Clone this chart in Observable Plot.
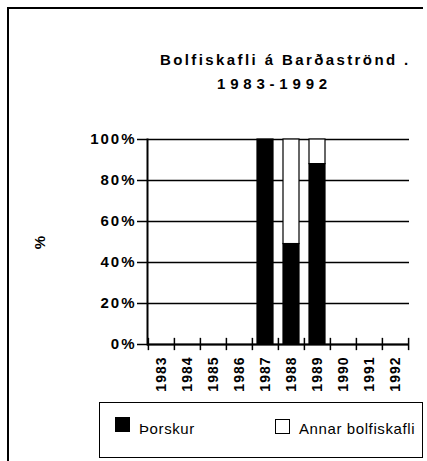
<!DOCTYPE html>
<html>
<head>
<meta charset="utf-8">
<script src="https://cdn.jsdelivr.net/npm/d3@7"></script>
<script src="https://cdn.jsdelivr.net/npm/@observablehq/plot@0.6"></script>
<style>
  html, body { margin: 0; padding: 0; background: #fff; }
  #wrap { position: relative; width: 427px; height: 461px; overflow: hidden; font-family: "Liberation Sans", Arial, sans-serif; color: #000; }
  #chart { position: absolute; left: 0; top: 0; }
  #chart g[aria-label="y-axis tick label"] text { letter-spacing: 2px; }
  #chart g[aria-label="x-axis tick label"] text { letter-spacing: 1px; }
  .frame { position: absolute; left: 7px; top: 7px; width: 414px; height: 470px; border-left: 2px solid #000; border-top: 2px solid #000; }
  .t1, .t2 { position: absolute; font-weight: bold; font-size: 15px; line-height: 15px; white-space: nowrap; }
  .t1 { left: 160px; top: 52px; letter-spacing: 2.4px; }
  .t2 { left: 217px; top: 76px; letter-spacing: 4.8px; }
  .ylab { position: absolute; left: 33px; top: 234px; font-size: 15px; font-weight: bold; transform: rotate(-90deg); }
  .legend { position: absolute; left: 99px; top: 402px; width: 322px; height: 54px; border: 1.5px solid #000; }
  .sw { position: absolute; width: 15px; height: 15px; box-sizing: border-box; border: 1.5px solid #000; }
  .lt { position: absolute; font-size: 15px; line-height: 15px; letter-spacing: 0.6px; white-space: nowrap; }
</style>
</head>
<body>
<div id="wrap">
  <div class="frame"></div>
  <div id="chart"></div>
  <div class="t1">Bolfiskafli á Barðaströnd .</div>
  <div class="t2">1983-1992</div>
  <div class="ylab">%</div>
  <div class="legend" id="legend"></div>
</div>
<script>
const years = ["1983","1984","1985","1986","1987","1988","1989","1990","1991","1992"];
const series = ["Þorskur", "Annar bolfiskafli"];
const thorskur = [0, 0, 0, 0, 100, 49, 88, 0, 0, 0];
const annar    = [0, 0, 0, 0, 0, 51, 12, 0, 0, 0];
const yTicks = [0, 20, 40, 60, 80, 100];
const seriesColors = ["#000000", "#ffffff"];

const data = [];
years.forEach((yr, i) => {
  if (thorskur[i] + annar[i] > 0) {
    data.push({year: yr, series: series[0], value: thorskur[i]});
    data.push({year: yr, series: series[1], value: annar[i]});
  }
});

const W = 427, H = 461, mL = 147, mR = 18, mT = 139, mB = 117;
const step = (W - mL - mR) / (years.length - 0.4 + 0.4);

const chart = Plot.plot({
  width: W, height: H,
  marginLeft: mL, marginRight: mR, marginTop: mT, marginBottom: mB,
  style: {fontFamily: "'Liberation Sans', Arial, sans-serif", background: "transparent", color: "#000", overflow: "visible"},
  x: {type: "band", domain: years, paddingInner: 0.4, paddingOuter: 0.2, label: null},
  y: {domain: [0, 100], label: null},
  color: {domain: series, range: seriesColors},
  marks: [
    Plot.ruleY(yTicks, {stroke: "#000", strokeWidth: 1.5}),
    Plot.barY(data, {x: "year", y: "value", fill: "series", stroke: "#000", strokeWidth: 1.2, order: series}),
    Plot.ruleY([0], {stroke: "#000", strokeWidth: 2}),
    Plot.frame({anchor: "left", stroke: "#000", strokeWidth: 2}),
    Plot.ruleX(years, {x: d => d, y1: -3, y2: 3, dx: -step / 2, stroke: "#000", strokeWidth: 1.5}),
    Plot.ruleX(years.slice(-1), {x: d => d, y1: -3, y2: 3, dx: step / 2, stroke: "#000", strokeWidth: 1.5}),
    Plot.axisY({ticks: yTicks, tickFormat: d => d + "%", tickSize: 10, tickPadding: 1, fontSize: 15, fontWeight: "bold", label: null, stroke: "#000", strokeWidth: 1.5}),
    Plot.axisX({tickSize: 0, tickRotate: -90, tickPadding: 12, fontSize: 14, fontWeight: "bold", label: null})
  ]
});
document.getElementById("chart").appendChild(chart);

// legend
const legend = document.getElementById("legend");
const legendPos = [{sx: 15, tx: 39}, {sx: 175, tx: 199}];
series.forEach((s, i) => {
  const sw = document.createElement("div");
  sw.className = "sw";
  sw.style.left = legendPos[i].sx + "px";
  sw.style.top = (i === 0 ? 14 : 16) + "px";
  sw.style.background = seriesColors[i];
  legend.appendChild(sw);
  const t = document.createElement("div");
  t.className = "lt";
  t.style.left = legendPos[i].tx + "px";
  t.style.top = "18px";
  t.textContent = s;
  legend.appendChild(t);
});
</script>
</body>
</html>
